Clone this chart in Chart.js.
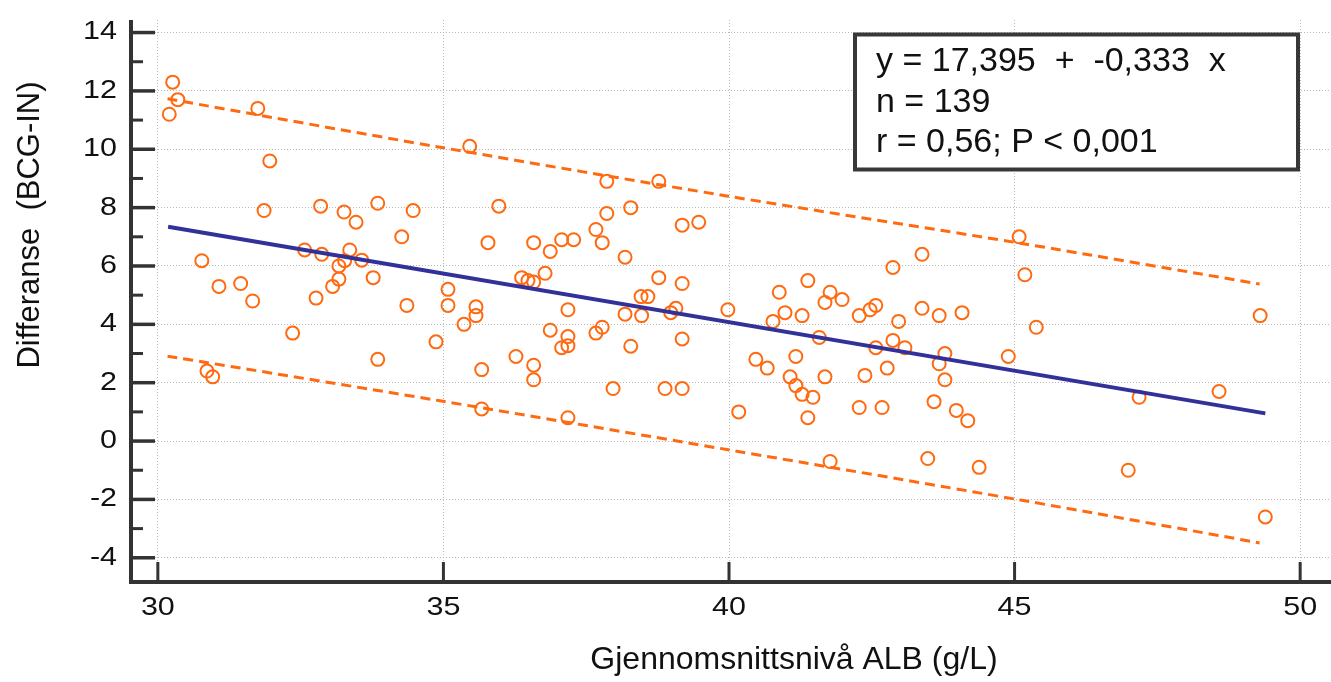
<!DOCTYPE html>
<html><head><meta charset="utf-8">
<script src="https://cdn.jsdelivr.net/npm/chart.js@4/dist/chart.umd.min.js"></script>
<style>html,body{margin:0;padding:0;background:#fff;overflow:hidden}#wrap{width:1331px;height:682px}</style>
</head><body><div id="wrap"><canvas id="c" width="1331" height="682"></canvas></div>
<script>
const xVals = [30.2,30.26,30.35,31.75,31.96,31.86,30.77,31.07,31.45,31.66,
30.86,30.96,32.36,32.57,32.85,32.87,32.77,33.26,33.47,33.36,
33.17,33.27,33.17,33.06,33.57,33.77,33.85,33.85,34.27,34.47,
34.36,34.87,35.46,35.08,35.08,35.36,35.57,35.57,35.67,35.67,
35.78,35.97,36.27,36.37,36.48,36.58,36.58,36.58,36.58,36.78,
36.87,36.87,37.07,37.28,37.07,37.18,37.18,37.18,37.18,37.67,
37.78,37.86,37.86,37.67,37.78,37.97,38.18,38.18,38.28,38.28,
38.46,38.47,38.58,38.77,38.77,38.88,38.98,39.07,39.18,39.18,
39.18,39.18,39.47,39.98,40.17,40.47,40.67,40.77,40.88,40.98,
41.07,41.17,41.17,41.28,41.28,41.38,41.38,41.47,41.58,41.68,
41.68,41.77,41.77,41.98,42.28,42.28,42.38,42.47,42.57,42.57,
42.68,42.77,42.87,42.87,42.97,43.08,43.38,43.38,43.48,43.59,
43.68,43.68,43.78,43.78,43.98,44.08,44.18,44.38,44.89,45.08,
45.18,45.38,46.99,47.18,48.58,49.3,49.39];
const yVals = [11.2,12.3,11.7,11.4,9.6,7.9,6.18,5.3,5.4,4.8,
2.4,2.2,3.7,6.55,8.05,6.4,4.9,7.85,7.5,6.55,
6.0,6.18,5.55,5.3,6.2,5.6,8.15,2.8,7.0,7.9,
4.65,3.4,10.1,5.2,4.65,4.0,4.6,4.3,2.45,1.1,
6.8,8.05,2.9,5.6,5.5,5.45,6.8,2.6,2.1,5.75,
6.5,3.8,6.9,6.9,3.2,3.27,3.58,4.5,0.8,7.25,
6.8,8.9,7.8,3.7,3.9,1.8,6.3,4.35,8.0,3.25,
4.95,4.3,4.95,8.9,5.6,1.8,4.4,4.55,7.4,5.4,
3.5,1.8,7.5,4.5,1.0,2.8,2.5,4.1,5.1,4.4,
2.2,2.9,1.9,4.3,1.6,5.5,0.8,1.5,3.55,4.75,
2.2,5.1,-0.7,4.85,4.3,1.15,2.25,4.5,4.65,3.2,
1.15,2.5,5.95,3.45,4.1,3.2,6.4,4.55,-0.6,1.35,
4.3,2.65,3.0,2.1,1.05,4.4,0.7,-0.9,2.9,7.0,
5.7,3.9,-1.0,1.5,1.7,4.3,-2.6];
const regIntercept = 17.395;
const regSlope = -0.333;
const regXRange = [30.18, 49.39];
const upperX = [30.17, 34.94, 39.96, 45.1, 49.29];
const upperY = [11.73, 10.07, 8.40, 6.78, 5.38];
const lowerX = [30.17, 34.94, 39.96, 45.1, 49.29];
const lowerY = [2.91, 1.38, -0.29, -2.02, -3.49];
const xTicks = [30, 35, 40, 45, 50];
const yTicks = [-4, -2, 0, 2, 4, 6, 8, 10, 12, 14];
const yMinorTicks = [-3, -1, 1, 3, 5, 7, 9, 11, 13];
const xTitle = 'Gjennomsnittsnivå ALB (g/L)';
const yTitle = 'Differanse  (BCG-IN)';
const statLines = ['y = 17,395  +  -0,333  x', 'n = 139', 'r = 0,56; P < 0,001'];

const ORANGE = '#FF6A10';
const NAVY = '#32319A';
const FONT = '"Liberation Sans", Arial, sans-serif';

const scatterData = xVals.map((x, i) => ({x, y: yVals[i]}));
const regData = regXRange.map(x => ({x, y: regIntercept + regSlope * x}));
const upperData = upperX.map((x, i) => ({x, y: upperY[i]}));
const lowerData = lowerX.map((x, i) => ({x, y: lowerY[i]}));

function wideText(ctx, txt, px, py, align, sx) {
  ctx.save();
  ctx.translate(px, py);
  ctx.scale(sx, 1);
  ctx.textAlign = align;
  ctx.fillText(txt, 0, 0);
  ctx.restore();
}

const axesPlugin = {
  id: 'customAxes',
  afterDraw(chart) {
    const {ctx, chartArea: a, scales: {x, y}} = chart;
    ctx.save();
    ctx.strokeStyle = '#333';
    ctx.lineCap = 'butt';
    // axis lines
    ctx.lineWidth = 4;
    ctx.beginPath(); ctx.moveTo(a.left, a.top); ctx.lineTo(a.left, a.bottom + 2); ctx.stroke();
    ctx.beginPath(); ctx.moveTo(a.left - 2, a.bottom); ctx.lineTo(a.right, a.bottom); ctx.stroke();
    // y ticks
    ctx.lineWidth = 3.5;
    yTicks.forEach(v => { const p = y.getPixelForValue(v); ctx.beginPath(); ctx.moveTo(a.left, p); ctx.lineTo(a.left + 24, p); ctx.stroke(); });
    ctx.lineWidth = 3;
    yMinorTicks.forEach(v => { const p = y.getPixelForValue(v); ctx.beginPath(); ctx.moveTo(a.left, p); ctx.lineTo(a.left + 12, p); ctx.stroke(); });
    ctx.lineWidth = 3;
    xTicks.forEach(v => { const p = x.getPixelForValue(v); ctx.beginPath(); ctx.moveTo(p, a.bottom); ctx.lineTo(p, a.bottom - 20); ctx.stroke(); });
    // tick labels
    ctx.fillStyle = '#111';
    ctx.font = '25px ' + FONT;
    ctx.textBaseline = 'middle';
    yTicks.forEach(v => wideText(ctx, String(v), a.left - 14, y.getPixelForValue(v), 'right', 1.22));
    xTicks.forEach(v => wideText(ctx, String(v), x.getPixelForValue(v), a.bottom + 26, 'center', 1.22));
    // titles
    ctx.textAlign = 'center';
    ctx.font = '32px ' + FONT;
    ctx.fillText(xTitle, 794, 660);
    ctx.save();
    ctx.translate(30, 225); ctx.rotate(-Math.PI / 2);
    ctx.font = '31px ' + FONT;
    ctx.fillText(yTitle, 0, 0);
    ctx.restore();
    // stats box
    ctx.fillStyle = '#fff';
    ctx.fillRect(855, 34.5, 443, 135);
    ctx.lineWidth = 4; ctx.strokeStyle = '#383838';
    ctx.strokeRect(855, 34.5, 443, 135);
    ctx.fillStyle = '#111';
    ctx.font = '34px ' + FONT;
    ctx.textAlign = 'left';
    ctx.textBaseline = 'alphabetic';
    statLines.forEach((t, i) => ctx.fillText(t, 876, 71 + i * 40.5));
    ctx.restore();
  }
};

new Chart(document.getElementById('c'), {
  data: {
    datasets: [
      {type: 'line', data: upperData, borderColor: ORANGE, borderWidth: 3, borderDash: [10, 6], pointRadius: 0, fill: false, tension: 0.3},
      {type: 'line', data: lowerData, borderColor: ORANGE, borderWidth: 3, borderDash: [10, 6], pointRadius: 0, fill: false, tension: 0.3},
      {type: 'line', data: regData, borderColor: NAVY, borderWidth: 4, pointRadius: 0, fill: false},
      {type: 'scatter', data: scatterData, borderColor: ORANGE, backgroundColor: 'rgba(0,0,0,0)', borderWidth: 2, pointRadius: 6.5, pointHoverRadius: 6.5}
    ]
  },
  options: {
    responsive: false, animation: false, devicePixelRatio: 1,
    layout: {autoPadding: false, padding: {left: 131, right: 0, top: 20, bottom: 100}},
    plugins: {legend: {display: false}, tooltip: {enabled: false}},
    scales: {
      x: {type: 'linear', min: 29.53, max: 50.54,
          afterBuildTicks: s => { s.ticks = xTicks.map(v => ({value: v})); },
          ticks: {display: false},
          grid: {color: '#b8b8b8', lineWidth: 1, drawTicks: false},
          border: {display: false, dash: [1, 2]}},
      y: {type: 'linear', min: -4.83, max: 14.43,
          afterBuildTicks: s => { s.ticks = yTicks.map(v => ({value: v})); },
          ticks: {display: false},
          grid: {color: '#b8b8b8', lineWidth: 1, drawTicks: false},
          border: {display: false, dash: [1, 2]}}
    }
  },
  plugins: [axesPlugin]
});
</script></body></html>
